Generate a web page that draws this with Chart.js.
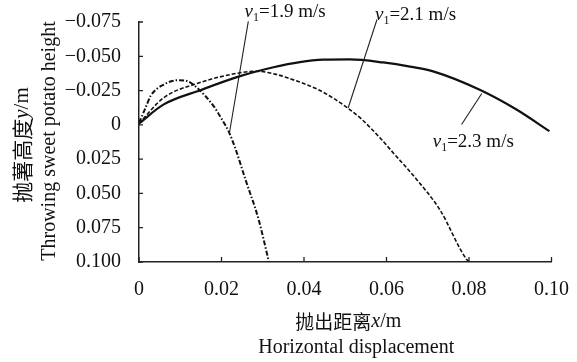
<!DOCTYPE html>
<html>
<head>
  <meta charset="utf-8">
  <title>Sweet potato throwing trajectories</title>
  <script src="https://cdn.jsdelivr.net/npm/chart.js"></script>
  <style>
    body { margin: 0; background: #fff; }
    #wrap { width: 577px; height: 362px; }
  </style>
</head>
<body>
  <div id="wrap"><canvas id="chart" width="577" height="362"></canvas></div>
  <script>
    // trajectories (x, y in m, y grows downward)
    const x19 = [0, 0.0016, 0.0028, 0.006, 0.0096, 0.0117, 0.0141, 0.0181, 0.0201, 0.0217, 0.0233, 0.0258, 0.029, 0.0315];
    const y19 = [-0.0015, -0.0125, -0.021, -0.0294, -0.0326, -0.0319, -0.027, -0.0136, -0.004, 0.0046, 0.0167, 0.0398, 0.069, 0.100];

    const x21 = [0, 0.006, 0.0141, 0.0245, 0.0285, 0.033, 0.0358, 0.0439, 0.0505, 0.054, 0.0584, 0.0616, 0.0673, 0.0729, 0.0794, 0.0802];
    const y21 = [-0.001, -0.0198, -0.0302, -0.038, -0.0391, -0.037, -0.0345, -0.025, -0.0125, -0.004, 0.0094, 0.0203, 0.0398, 0.0617, 0.098, 0.100];

    const x23 = [0, 0.006, 0.0149, 0.0245, 0.0326, 0.039, 0.0447, 0.0511, 0.0592, 0.0657, 0.0713, 0.0826, 0.0915, 0.0995];
    const y23 = [-0.001, -0.0149, -0.0253, -0.0355, -0.042, -0.0458, -0.0475, -0.0477, -0.0455, -0.0425, -0.039, -0.0256, -0.0112, 0.0046];

    const speeds = ['1.9', '2.1', '2.3'];
    const xTicks = [0, 0.02, 0.04, 0.06, 0.08, 0.10];
    const yTicks = [-0.075, -0.050, -0.025, 0, 0.025, 0.050, 0.075, 0.100];

    const SERIF = "'Liberation Serif', 'Times New Roman', serif";
    const CJK = "'Noto Sans CJK SC', sans-serif";

    // label anchor + leader line, in data units
    const notes = [
      { text: speeds[0], at: [0.0256, -0.0783], from: [0.0265, -0.0754], to: [0.0219, 0.0063] },
      { text: speeds[1], at: [0.0572, -0.0768], from: [0.0577, -0.0768], to: [0.0507, -0.0123] },
      { text: speeds[2], at: [0.0712, 0.0165], from: [0.0831, -0.0229], to: [0.0782, -0.0003] }
    ];

    function pts(xs, ys) {
      return xs.map((x, i) => ({ x: x, y: ys[i] }));
    }

    function drawRuns(ctx, runs, cx, cy) {
      let total = 0;
      runs.forEach(r => { ctx.font = r.f; total += ctx.measureText(r.t).width; });
      let x = cx - total / 2;
      runs.forEach(r => {
        ctx.font = r.f;
        ctx.fillText(r.t, x, cy);
        x += ctx.measureText(r.t).width;
      });
    }

    const extras = {
      id: 'extras',
      afterDraw(chart) {
        const ctx = chart.ctx;
        const xs = chart.scales.x, ys = chart.scales.y;
        const ca = chart.chartArea;
        ctx.save();
        ctx.strokeStyle = '#222';
        ctx.fillStyle = '#111';

        // inward tick marks
        ctx.lineWidth = 1.3;
        ctx.beginPath();
        xTicks.forEach(v => {
          const p = xs.getPixelForValue(v);
          ctx.moveTo(p, ca.bottom);
          ctx.lineTo(p, ca.bottom - 5);
        });
        yTicks.forEach(v => {
          const p = ys.getPixelForValue(v);
          ctx.moveTo(ca.left, p);
          ctx.lineTo(ca.left + 4, p);
        });
        ctx.stroke();

        // leader lines and speed labels
        ctx.lineWidth = 1.1;
        notes.forEach(n => {
          ctx.beginPath();
          ctx.moveTo(xs.getPixelForValue(n.from[0]), ys.getPixelForValue(n.from[1]));
          ctx.lineTo(xs.getPixelForValue(n.to[0]), ys.getPixelForValue(n.to[1]));
          ctx.stroke();

          let x = xs.getPixelForValue(n.at[0]);
          const y = ys.getPixelForValue(n.at[1]);
          ctx.textBaseline = 'alphabetic';
          ctx.textAlign = 'left';
          ctx.font = 'italic 19px ' + SERIF;
          ctx.fillText('v', x, y);
          x += ctx.measureText('v').width;
          ctx.font = '12px ' + SERIF;
          ctx.fillText('1', x, y + 4);
          x += ctx.measureText('1').width;
          ctx.font = '19px ' + SERIF;
          ctx.fillText('=' + n.text + ' m/s', x, y);
        });

        // axis titles
        ctx.textAlign = 'left';
        ctx.textBaseline = 'middle';
        const midX = (ca.left + ca.right) / 2;
        drawRuns(ctx, [
          { t: '抛出距离', f: '19px ' + CJK },
          { t: 'x', f: 'italic 20px ' + SERIF },
          { t: '/m', f: '20px ' + SERIF }
        ], midX + 3, ca.bottom + 60);
        drawRuns(ctx, [{ t: 'Horizontal displacement', f: '20px ' + SERIF }], midX + 11, ca.bottom + 86);

        const midY = (ca.top + ca.bottom) / 2;
        ctx.save();
        ctx.translate(ca.left - 117, midY + 3);
        ctx.rotate(-Math.PI / 2);
        drawRuns(ctx, [
          { t: '抛薯高度', f: '21px ' + CJK },
          { t: 'y', f: 'italic 21px ' + SERIF },
          { t: '/m', f: '21px ' + SERIF }
        ], 0, 0);
        ctx.restore();
        ctx.save();
        ctx.translate(ca.left - 89, midY - 1);
        ctx.rotate(-Math.PI / 2);
        drawRuns(ctx, [{ t: 'Throwing sweet potato height', f: '20px ' + SERIF }], 0, 0);
        ctx.restore();

        ctx.restore();
      }
    };

    new Chart(document.getElementById('chart'), {
      type: 'line',
      data: {
        datasets: [
          { label: speeds[0], data: pts(x19, y19), borderColor: '#111', borderWidth: 2, borderDash: [5, 2, 1.5, 2] },
          { label: speeds[1], data: pts(x21, y21), borderColor: '#111', borderWidth: 1.6, borderDash: [4, 2] },
          { label: speeds[2], data: pts(x23, y23), borderColor: '#111', borderWidth: 2.2 }
        ]
      },
      options: {
        responsive: false,
        animation: false,
        layout: { padding: { top: 22, right: 25, left: 0, bottom: 0 } },
        elements: {
          point: { radius: 0 },
          line: { cubicInterpolationMode: 'monotone', fill: false }
        },
        plugins: { legend: { display: false }, tooltip: { enabled: false } },
        scales: {
          x: {
            type: 'linear',
            min: 0,
            max: 0.10,
            grid: { display: false },
            border: { display: true, color: '#222', width: 1.5 },
            afterBuildTicks: s => { s.ticks = xTicks.map(v => ({ value: v })); },
            afterFit: s => { s.height = 100; },
            ticks: {
              padding: 8,
              color: '#111',
              font: { family: SERIF, size: 20 },
              maxRotation: 0,
              callback: v => v === 0 ? '0' : v.toFixed(2)
            }
          },
          y: {
            type: 'linear',
            reverse: true,
            min: -0.075,
            max: 0.100,
            grid: { display: false },
            border: { display: true, color: '#222', width: 1.5 },
            afterBuildTicks: s => { s.ticks = yTicks.map(v => ({ value: v })); },
            afterFit: s => { s.width = 139; },
            ticks: {
              padding: 10,
              color: '#111',
              font: { family: SERIF, size: 20 },
              callback: v => v === 0 ? '0' : (v < 0 ? '\u2212' : '') + Math.abs(v).toFixed(3)
            }
          }
        }
      },
      plugins: [extras]
    });
  </script>
</body>
</html>
